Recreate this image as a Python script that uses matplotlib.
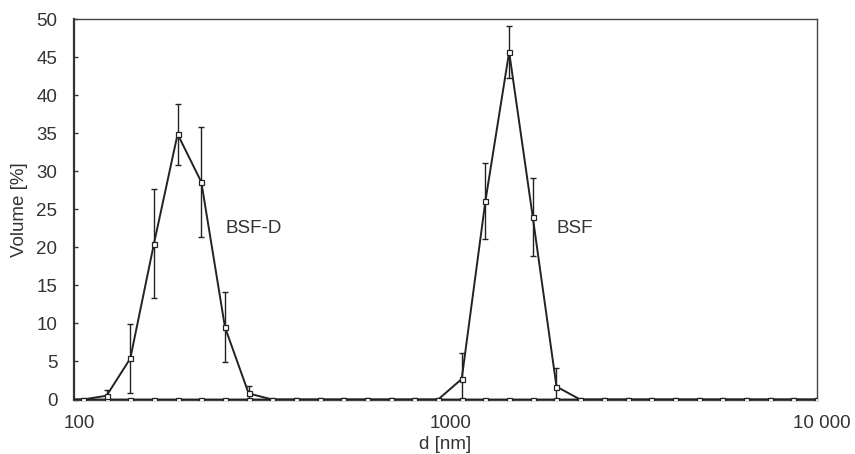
import matplotlib

matplotlib.use("Agg")
import matplotlib.pyplot as plt
import matplotlib.transforms as mtransforms

# size bins [nm]
sizes = [91.28, 105.7, 122.4, 141.8, 164.2, 190.1, 220.2, 255.0, 295.3, 342.0,
         396.1, 458.7, 531.2, 615.1, 712.4, 825.0, 955.4, 1106, 1281, 1484,
         1718, 1990, 2305, 2669, 3091, 3580, 4145, 4801, 5560, 6439, 7456,
         8635, 10000]

# volume [%]
bsf_d = [0, 0, 0.5, 5.4, 20.5, 34.9, 28.6, 9.5, 0.8, 0,
         0, 0, 0, 0, 0, 0, 0, 0, 0, 0,
         0, 0, 0, 0, 0, 0, 0, 0, 0, 0, 0,
         0, 0]
bsf_d_err = [0, 0, 0.7, 4.5, 7.2, 4.0, 7.2, 4.6, 1.0, 0,
             0, 0, 0, 0, 0, 0, 0, 0, 0, 0,
             0, 0, 0, 0, 0, 0, 0, 0, 0, 0, 0,
             0, 0]

bsf = [0, 0, 0, 0, 0, 0, 0, 0, 0, 0,
       0, 0, 0, 0, 0, 0, 0, 2.7, 26.1, 45.7,
       24.0, 1.7, 0, 0, 0, 0, 0, 0, 0, 0, 0,
       0, 0]
bsf_err = [0, 0, 0, 0, 0, 0, 0, 0, 0, 0,
           0, 0, 0, 0, 0, 0, 0, 3.4, 5.0, 3.4,
           5.1, 2.5, 0, 0, 0, 0, 0, 0, 0, 0, 0,
           0, 0]

x_ticks = [100, 1000, 10000]
x_tick_labels = ["100", "1000", "10 000"]
y_ticks = [0, 5, 10, 15, 20, 25, 30, 35, 40, 45, 50]

plt.rcParams["font.family"] = ["Liberation Sans", "DejaVu Sans"]
plt.rcParams["font.size"] = 13.5

fig = plt.figure(figsize=(8.55, 4.54), dpi=100)
ax = fig.add_axes([0.0865, 0.12, 0.869, 0.8375])

line_color = "#222222"
text_color = "#333333"


def draw_series(ax, y, err):
    """Error bars, line and open square markers for one series."""
    ax.errorbar(sizes, y, yerr=err, fmt="none",
                ecolor=line_color, elinewidth=1.0, capsize=2.5, capthick=1.0,
                zorder=2)
    ax.plot(sizes, y, color=line_color, linewidth=1.4, marker="s",
            markersize=3.6, markerfacecolor="white",
            markeredgecolor=line_color, markeredgewidth=0.9, zorder=3)


draw_series(ax, bsf, bsf_err)
draw_series(ax, bsf_d, bsf_d_err)

ax.text(256, 22.5, "BSF-D", ha="left", va="center", color=text_color)
ax.text(1985, 22.5, "BSF", ha="left", va="center", color=text_color)

ax.set_xscale("log")
ax.set_xlim(100, 10000)
ax.set_ylim(0, 50)
ax.set_xticks(x_ticks)
ax.set_xticklabels(x_tick_labels)
ax.minorticks_off()
ax.set_yticks(y_ticks)
ax.tick_params(axis="x", length=0, pad=11, colors=text_color)
ax.tick_params(axis="y", direction="in", length=3, width=1, pad=12,
               colors=text_color)
for t in ax.yaxis.get_ticklines():
    t.set_color("#333333")

# shift x tick labels a little to the right, like the original
offset = mtransforms.ScaledTranslation(5 / 100, 0, fig.dpi_scale_trans)
for lbl in ax.get_xticklabels():
    lbl.set_transform(lbl.get_transform() + offset)

ax.set_xlabel("d [nm]", labelpad=3, color=text_color)
ax.set_ylabel("Volume [%]", labelpad=6, color=text_color)

ax.spines["left"].set_color("#333333")
ax.spines["left"].set_linewidth(1.6)
for side in ["top", "right", "bottom"]:
    ax.spines[side].set_color("#444444")
    ax.spines[side].set_linewidth(1.0)

plt.savefig("out.png", dpi=100)
plt.close()
